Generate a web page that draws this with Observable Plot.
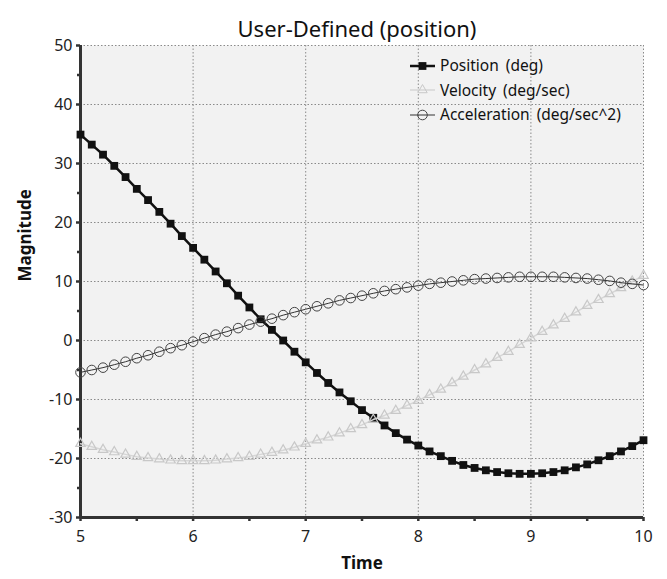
<!DOCTYPE html>
<html><head><meta charset="utf-8">
<script src="https://cdn.jsdelivr.net/npm/d3@7"></script>
<script src="https://cdn.jsdelivr.net/npm/@observablehq/plot@0.6"></script>
<style>
body{margin:0;background:#fff;font-family:"Noto Sans",sans-serif;}
#wrap{position:relative;width:667px;height:579px;}
#legend{position:absolute;left:410px;top:54px;font-size:15.5px;color:#111;line-height:1;word-spacing:3px;}
.row{display:flex;align-items:center;height:24.3px;}
.row svg{margin-right:5px;display:block}
</style></head><body><div id="wrap"><div id="legend"></div></div>
<script>
const time = [5.0,5.1,5.2,5.3,5.4,5.5,5.6,5.7,5.8,5.9,6.0,6.1,6.2,6.3,6.4,6.5,6.6,6.7,6.8,6.9,7.0,7.1,7.2,7.3,7.4,7.5,7.6,7.7,7.8,7.9,8.0,8.1,8.2,8.3,8.4,8.5,8.6,8.7,8.8,8.9,9.0,9.1,9.2,9.3,9.4,9.5,9.6,9.7,9.8,9.9,10.0];
const position = [34.9,33.2,31.5,29.6,27.7,25.7,23.8,21.8,19.8,17.7,15.7,13.7,11.7,9.7,7.6,5.6,3.6,1.8,0.0,-1.9,-3.7,-5.5,-7.2,-8.8,-10.3,-11.8,-13.1,-14.4,-15.7,-16.8,-17.8,-18.8,-19.6,-20.4,-21.1,-21.6,-22.0,-22.3,-22.5,-22.6,-22.6,-22.5,-22.3,-22.0,-21.5,-21.0,-20.3,-19.6,-18.8,-17.9,-16.9];
const velocity = [-17.5,-18.0,-18.5,-18.9,-19.3,-19.7,-19.9,-20.1,-20.3,-20.4,-20.4,-20.4,-20.3,-20.1,-19.9,-19.7,-19.3,-19.0,-18.6,-18.1,-17.5,-16.9,-16.4,-15.7,-15.0,-14.3,-13.4,-12.7,-11.9,-11.0,-10.2,-9.2,-8.3,-7.2,-6.1,-5.0,-4.0,-2.9,-1.9,-0.7,0.4,1.5,2.6,3.7,4.8,5.9,6.9,7.9,8.9,10.0,11.0];
const acceleration = [-5.4,-5.0,-4.6,-4.1,-3.6,-3.0,-2.5,-1.9,-1.3,-0.8,-0.2,0.4,1.0,1.5,2.1,2.7,3.2,3.7,4.3,4.8,5.3,5.8,6.3,6.8,7.2,7.6,8.0,8.4,8.7,9.0,9.3,9.6,9.8,10.0,10.2,10.4,10.5,10.6,10.7,10.8,10.8,10.8,10.8,10.7,10.6,10.5,10.3,10.1,9.8,9.6,9.4];
const seriesNames = ["Position (deg)", "Velocity (deg/sec)", "Acceleration (deg/sec^2)"];
const yTicks = [-30,-20,-10,0,10,20,30,40,50];
const yMinor = [-25,-15,-5,5,15,25,35,45];
const xTicks = [5,6,7,8,9,10];
const xMinor = [5.5,6.5,7.5,8.5,9.5];
const titleText = "User-Defined (position)";
const xLabel = "Time";
const yLabel = "Magnitude";

const pos = time.map((t,i)=>({t, v: position[i]}));
const vel = time.map((t,i)=>({t, v: velocity[i]}));
const acc = time.map((t,i)=>({t, v: acceleration[i]}));

const chart = Plot.plot({
  width: 667, height: 579,
  marginTop: 45, marginBottom: 62, marginLeft: 80, marginRight: 24,
  style: {fontFamily: "Noto Sans", fontSize: "16px", color: "#222", background: "#fff"},
  x: {domain: [5, 10]},
  y: {domain: [-30, 50]},
  marks: [
    Plot.frame({fill: "#f2f2f2", stroke: null}),
    Plot.gridX(xTicks, {stroke: "#8a8a8a", strokeOpacity: 1, strokeDasharray: "1.5,2", strokeWidth: 1}),
    Plot.gridY(yTicks, {stroke: "#8a8a8a", strokeOpacity: 1, strokeDasharray: "1.5,2", strokeWidth: 1}),
    Plot.axisX({ticks: xTicks, tickSize: 4, tickPadding: 9, fontSize: 16, tickFormat: d => String(d), stroke: "#333", strokeWidth: 2.5, label: null, fill: "#222"}),
    Plot.axisX({ticks: xMinor, tickSize: 4, text: null, label: null, stroke: "#333", strokeWidth: 2.5}),
    Plot.axisY({ticks: yTicks, tickSize: 4, tickPadding: 4, fontSize: 16, tickFormat: d => String(d), stroke: "#333", strokeWidth: 2.5, label: null, fill: "#222"}),
    Plot.axisY({ticks: yMinor, tickSize: 3, text: null, label: null, stroke: "#333", strokeWidth: 2.5}),
    Plot.ruleX([5], {stroke: "#333", strokeWidth: 3}),
    Plot.ruleY([-30], {stroke: "#333", strokeWidth: 3}),
    Plot.line(pos, {x: "t", y: "v", stroke: "#111", strokeWidth: 2.5}),
    Plot.dot(pos, {x: "t", y: "v", symbol: "square", r: 4.4, fill: "#111", stroke: null}),
    Plot.line(vel, {x: "t", y: "v", stroke: "#d6d6d6", strokeWidth: 1.5}),
    Plot.dot(vel, {x: "t", y: "v", symbol: "triangle", r: 3.5, fill: "none", stroke: "#c8c8c8", strokeWidth: 1.2}),
    Plot.line(acc, {x: "t", y: "v", stroke: "#333", strokeWidth: 1}),
    Plot.dot(acc, {x: "t", y: "v", symbol: "circle", r: 4.8, fill: "none", stroke: "#444", strokeWidth: 1}),
    Plot.text([titleText], {text: d => d, frameAnchor: "top", dy: -24, dx: -5, fontSize: 22, fill: "#111"}),
    Plot.text([yLabel], {text: d => d, frameAnchor: "left", dx: -55, rotate: -90, fontWeight: "bold", fontSize: 17, fill: "#111"}),
    Plot.text([xLabel], {text: d => d, frameAnchor: "bottom", dy: 51, fontWeight: "bold", fontSize: 17, fill: "#111"})
  ]
});
document.getElementById("wrap").prepend(chart);

// legend
const legendStyles = [
  {stroke: "#111", sw: 2.5, sym: "square", fill: "#111", mstroke: "none", size: 4.4},
  {stroke: "#d6d6d6", sw: 1.5, sym: "triangle", fill: "none", mstroke: "#c8c8c8", size: 3.5},
  {stroke: "#333", sw: 1, sym: "circle", fill: "none", mstroke: "#444", size: 4.8}
];
const legend = d3.select("#legend");
seriesNames.forEach((name, i) => {
  const st = legendStyles[i];
  const row = legend.append("div").attr("class", "row");
  const svg = row.append("svg").attr("width", 25).attr("height", 14);
  svg.append("line").attr("x1", 0).attr("x2", 25).attr("y1", 7).attr("y2", 7).attr("stroke", st.stroke).attr("stroke-width", st.sw);
  const symType = st.sym === "square" ? d3.symbolSquare : st.sym === "triangle" ? d3.symbolTriangle : d3.symbolCircle;
  svg.append("path").attr("transform", "translate(12.5,7)")
    .attr("d", d3.symbol(symType, Math.PI * st.size * st.size)())
    .attr("fill", st.fill).attr("stroke", st.mstroke).attr("stroke-width", 1);
  row.append("span").text(name);
});
</script></body></html>
